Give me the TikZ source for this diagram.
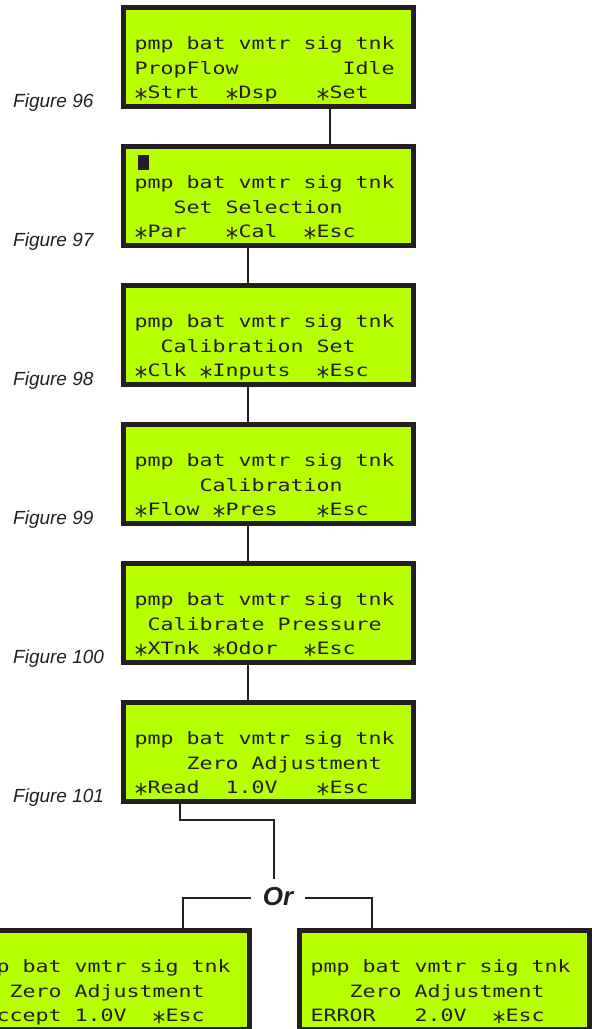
\documentclass[tikz,border=0pt]{standalone}
\usepackage{fontspec}
\setmainfont{Liberation Sans}
\newfontfamily\lcdfont[FakeStretch=1.27]{DejaVu Sans Mono}
\usetikzlibrary{calc}
\definecolor{lcdgreen}{RGB}{184,255,0}
\definecolor{ink}{RGB}{35,31,32}
\newcommand\ask{\makebox[\fontcharwd\font`\M][c]{\smash{\raisebox{-9.5pt}{\scalebox{1.15}[1.6]{*}}}}}
\newcommand\panel[6]{%
  \node[lcd] (#1) at (#2,#3+52) {};
  \node[lcdrow] (#1-a) at ($(#1.north west)+(13.5,44.5)$) {#4};
  \node[lcdrow] (#1-b) at ($(#1.north west)+(13.5,69)$) {#5};
  \node[lcdrow] (#1-c) at ($(#1.north west)+(13.5,93.5)$) {#6};
}
\begin{document}
\begin{tikzpicture}[x=1pt,y=-1pt,
  lcd/.style={draw=ink, line width=5pt, fill=lcdgreen, minimum width=290pt, minimum height=99pt, inner sep=0pt},
  lcdrow/.style={anchor=base west, inner sep=0pt, text=ink, font=\lcdfont\fontsize{17}{17}\selectfont},
  figlabel/.style={anchor=base west, inner sep=0pt, text=ink, font=\itshape\fontsize{19}{19}\selectfont},
  orlabel/.style={anchor=base, inner xsep=12pt, inner ysep=8pt, text=ink, font=\bfseries\itshape\fontsize{26}{26}\selectfont},
  conn/.style={draw=ink, line width=2pt}]
\useasboundingbox (0,0) rectangle (592,1029);
\clip (0,0) rectangle (592,1029);

\panel{b96}{268.5}{5}{pmp~bat~vmtr~sig~tnk}{PropFlow~~~~~~~~Idle}{\ask Strt~~\ask Dsp~~~\ask Set}
\panel{b97}{268.5}{144}{pmp~bat~vmtr~sig~tnk}{~~~Set~Selection}{\ask Par~~~\ask Cal~~\ask Esc}
\panel{b98}{268.5}{283}{pmp~bat~vmtr~sig~tnk}{~~Calibration~Set}{\ask Clk~\ask Inputs~~\ask Esc}
\panel{b99}{268.5}{422}{pmp~bat~vmtr~sig~tnk}{~~~~~Calibration}{\ask Flow~\ask Pres~~~\ask Esc}
\panel{b100}{268.5}{561}{pmp~bat~vmtr~sig~tnk}{~Calibrate~Pressure}{\ask XTnk~\ask Odor~~\ask Esc}
\panel{b101}{268.5}{700}{pmp~bat~vmtr~sig~tnk}{~~~~Zero~Adjustment}{\ask Read~~1.0V~~~\ask Esc}
\panel{bl}{104.5}{928}{pmp~bat~vmtr~sig~tnk}{~~~Zero~Adjustment}{\ask Accept~1.0V~~\ask Esc}
\panel{br}{444.5}{928}{pmp~bat~vmtr~sig~tnk}{~~~Zero~Adjustment}{ERROR~~~2.0V~~\ask Esc}

\node[fill=ink, minimum width=11pt, minimum height=15pt, inner sep=0pt, anchor=north west] (cur) at ($(b97.north west)+(17,11)$) {};

\node[figlabel] (f96) at (13,107) {Figure 96};
\node[figlabel] (f97) at (13,246) {Figure 97};
\node[figlabel] (f98) at (13,385) {Figure 98};
\node[figlabel] (f99) at (13,524) {Figure 99};
\node[figlabel] (f100) at (13,663) {Figure 100};
\node[figlabel] (f101) at (13,802) {Figure 101};

\node[orlabel] (or) at (278,905) {Or};

\coordinate (x1) at (330,0);
\coordinate (x2) at (248,0);
\coordinate (xa) at (180,0);
\coordinate (xb) at (274,0);
\coordinate (ya) at (0,820);
\coordinate (yh) at (0,898);
\coordinate (xl) at (183,0);
\coordinate (xr) at (372,0);

\draw[conn] (b96.south -| x1) -- (b97.north -| x1);
\draw[conn] (b97.south -| x2) -- (b98.north -| x2);
\draw[conn] (b98.south -| x2) -- (b99.north -| x2);
\draw[conn] (b99.south -| x2) -- (b100.north -| x2);
\draw[conn] (b100.south -| x2) -- (b101.north -| x2);
\draw[conn] (b101.south -| xa) -- (xa |- ya) -| (or.north -| xb);
\draw[conn] (or.west |- yh) -| (bl.north -| xl);
\draw[conn] (or.east |- yh) -| (br.north -| xr);
\end{tikzpicture}
\end{document}
